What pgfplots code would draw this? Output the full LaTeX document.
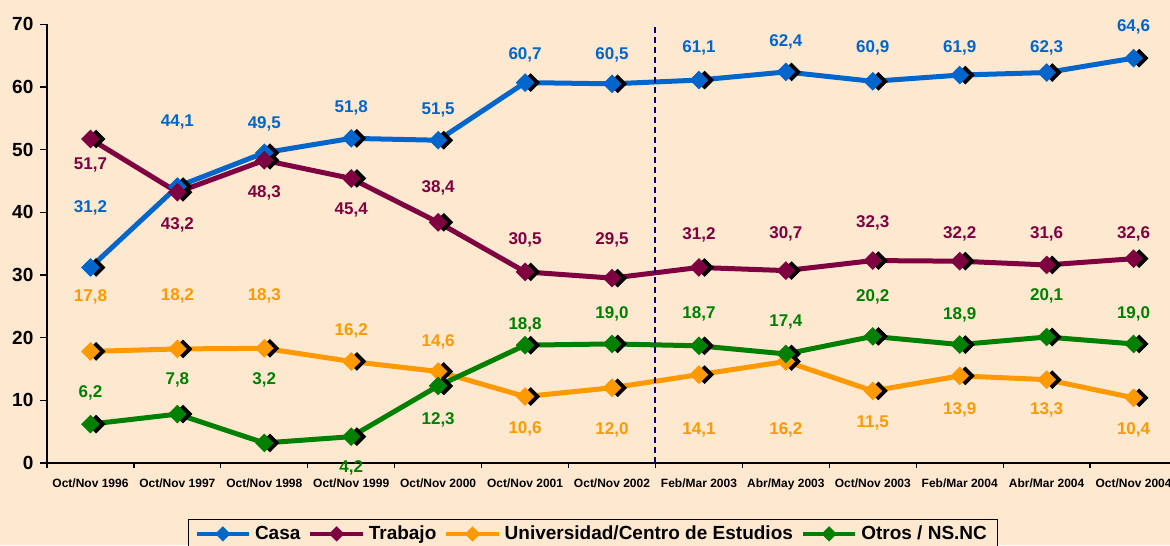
\documentclass[border=0pt]{standalone}
\usepackage{fontspec}
\setmainfont{Liberation Sans}
\usepackage{pgfplots}
\usepackage{pgfplotstable}
\pgfplotsset{compat=1.18}

\definecolor{bg}{HTML}{FFE8D0}
\definecolor{casa}{HTML}{0066CC}
\definecolor{trabajo}{HTML}{7F0040}
\definecolor{univ}{HTML}{FF9900}
\definecolor{otros}{HTML}{008000}
\definecolor{navy}{HTML}{000080}

% x, value, label offset (px, + is up)
\pgfplotstableread{
x y dy
0 31.2 60
1 44.1 65
2 49.5 29
3 51.8 30
4 51.5 30
5 60.7 28
6 60.5 29
7 61.1 32
8 62.4 30
9 60.9 33
10 61.9 27
11 62.3 25
12 64.6 31
}\casa
\pgfplotstableread{
x y dy
0 51.7 -26
1 43.2 -33
2 48.3 -33
3 45.4 -31
4 38.4 34
5 30.5 32
6 29.5 38
7 31.2 33
8 30.7 37
9 32.3 38
10 32.2 27
11 31.6 31
12 32.6 25
}\trabajo
\pgfplotstableread{
x y dy
0 17.8 55
1 18.2 53
2 18.3 52
3 16.2 31
4 14.6 30
5 10.6 -32
6 12.0 -42
7 14.1 -55
8 16.2 -68
9 11.5 -32
10 13.9 -34
11 13.3 -30
12 10.4 -32
}\univ
\pgfplotstableread{
x y dy
0 6.2 31
1 7.8 34
2 3.2 63
3 4.2 -31
4 12.3 -34
5 18.8 20
6 19.0 30
7 18.7 32
8 17.4 32
9 20.2 40
10 18.9 30
11 20.1 41
12 19.0 30
}\otros

\pgfplotsset{
  serie/.style={line width=2.5pt, color=#1, mark=square*, mark size=3.1pt,
    mark options={rotate=45, solid, line width=0.4pt, fill=#1},
    nodes near coords={\pgfmathprintnumber[fixed,fixed zerofill,precision=1,use comma]{\pgfplotspointmeta}},
    visualization depends on={\thisrow{dy} \as \dy},
    every node near coord/.style={anchor=center, yshift=\dy*0.5pt, inner sep=0pt,
      font=\bfseries\fontsize{8.5}{9}\selectfont, text=#1}},
  shadow/.style={forget plot, only marks, mark=square*, mark size=3.1pt, black,
    mark options={rotate=45, xshift=2pt, yshift=-2pt}},
}

\begin{document}
\begin{tikzpicture}
\fill[bg] (0,0) rectangle (585pt,272.5pt);
\begin{axis}[
  at={(23.5pt,41pt)}, anchor=south west,
  scale only axis, width=565pt, height=219.35pt,
  xmin=-0.5, xmax=12.5, ymin=0, ymax=70,
  axis x line=bottom, axis y line=left,
  axis line style={-, black, line width=0.6pt},
  xtick={0,...,12},
  xticklabels={Oct/Nov 1996, Oct/Nov 1997, Oct/Nov 1998, Oct/Nov 1999, Oct/Nov 2000, Oct/Nov 2001, Oct/Nov 2002, Feb/Mar 2003, Abr/May 2003, Oct/Nov 2003, Feb/Mar 2004, Abr/Mar 2004, Oct/Nov 2004},
  major x tick style={draw=none},
  minor xtick={-0.5,0.5,...,12.5},
  ytick={0,10,...,70},
  tick align=outside, major tick length=3.3pt, minor tick length=2.5pt,
  tick style={black, line width=0.6pt},
  /pgf/number format/assume math mode=true,
  x tick label style={font=\bfseries\fontsize{6}{7}\selectfont, yshift=-1pt},
  y tick label style={font=\bfseries\fontsize{9.5}{11}\selectfont},
  clip=false,
  legend columns=-1,
  legend style={at={(0.483,-0.128)}, anchor=north, draw=black, fill=bg,
    font=\bfseries\fontsize{9.5}{10}\selectfont, inner ysep=1pt,
    /tikz/every even column/.append style={column sep=2pt}},
  legend image code/.code={\draw[mark repeat=2, mark phase=2, line width=2pt, #1, mark size=2.5pt]
    plot coordinates {(0cm,0cm) (0.46cm,0cm) (0.92cm,0cm)};},
]
\addplot[shadow] table[x=x,y=y] {\casa};
\addplot[shadow] table[x=x,y=y] {\trabajo};
\addplot[shadow] table[x=x,y=y] {\univ};
\addplot[shadow] table[x=x,y=y] {\otros};
\addplot[serie=casa] table[x=x,y=y] {\casa};
\addplot[serie=trabajo] table[x=x,y=y] {\trabajo};
\addplot[serie=univ] table[x=x,y=y] {\univ};
\addplot[serie=otros] table[x=x,y=y] {\otros};
\legend{Casa, Trabajo, Universidad/Centro de Estudios, Otros / NS.NC}
\draw[navy, line width=1pt, dash pattern=on 3pt off 2pt] (axis cs:6.5,0) -- (axis cs:6.5,70);
\end{axis}
\pgfresetboundingbox
\path (0,0) rectangle (585pt,272.5pt);
\end{tikzpicture}
\end{document}
